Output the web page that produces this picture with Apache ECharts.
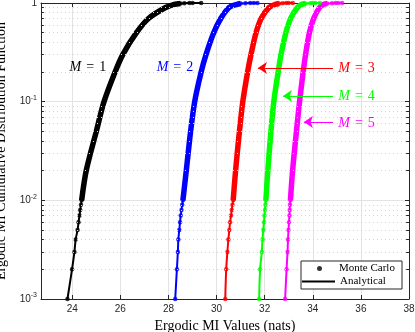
<!DOCTYPE html>
<html>
<head>
<meta charset="utf-8">
<script src="https://cdn.jsdelivr.net/npm/echarts@6/dist/echarts.min.js"></script>
<style>
html, body { margin: 0; padding: 0; background: #fff; }
#chart { width: 415px; height: 332px; }
</style>
</head>
<body>
<div id="chart"></div>
<script>
// CDF levels (Monte Carlo, 1000 samples) and the MI value at each level
var levels = [0.001, 0.002, 0.003, 0.004, 0.005, 0.006, 0.007, 0.008, 0.009, 0.01,
              0.02, 0.05, 0.1, 0.2, 0.3, 0.5, 0.7, 0.9, 0.97, 0.99,
              0.997, 0.998, 0.999, 1];
var m1 = [23.80, 23.99, 24.09, 24.14, 24.22, 24.26, 24.30, 24.33, 24.36, 24.39,
          24.58, 25.00, 25.32, 25.78, 26.10, 26.67, 27.18, 27.88, 28.24, 28.50,
          28.66, 28.87, 29.00, 29.36];
var m2 = [28.28, 28.35, 28.39, 28.41, 28.45, 28.48, 28.51, 28.54, 28.57, 28.60,
          28.74, 28.92, 29.09, 29.36, 29.56, 29.88, 30.18, 30.52, 30.85, 31.00,
          31.20, 31.40, 31.55, 31.70];
var m3 = [30.36, 30.40, 30.45, 30.49, 30.53, 30.56, 30.60, 30.63, 30.66, 30.69,
          30.79, 30.95, 31.09, 31.29, 31.43, 31.64, 31.86, 32.18, 32.45, 32.60,
          32.75, 32.90, 33.00, 33.17];
var m4 = [31.77, 31.81, 31.88, 31.91, 31.94, 31.97, 31.99, 32.01, 32.03, 32.05,
          32.13, 32.26, 32.38, 32.56, 32.68, 32.88, 33.08, 33.36, 33.55, 33.70,
          33.90, 34.00, 34.10, 34.30];
var m5 = [32.85, 32.91, 32.95, 32.97, 32.99, 33.01, 33.03, 33.04, 33.05, 33.07,
          33.16, 33.32, 33.45, 33.60, 33.70, 33.86, 34.04, 34.28, 34.45, 34.60,
          34.80, 34.95, 35.05, 35.22];
var curves = [m1, m2, m3, m4, m5];
var curveColors = ['#000000', '#0000ff', '#ff0000', '#00ff00', '#ff00ff'];
var curveLabels = ['1', '2', '3', '4', '5'];

// minor (dotted) grid levels of the log axis
var minorLevels = [0.002, 0.003, 0.004, 0.005, 0.006, 0.007, 0.008, 0.009,
                   0.02, 0.03, 0.04, 0.05, 0.06, 0.07, 0.08, 0.09,
                   0.2, 0.3, 0.4, 0.5, 0.6, 0.7, 0.8, 0.9];

// text annotations: [x, p] of the label centre
var labelPos = [[24.65, 0.2248], [28.27, 0.2248], [35.82, 0.2195], [35.82, 0.1142], [35.82, 0.0608]];
// arrows: tail x, head x, level p (none for M = 1, 2)
var arrows = [null, null, [34.84, 31.72, 0.2195], [34.84, 32.76, 0.1142], [34.84, 33.63, 0.0623]];

var xMin = 22.7, xMax = 38;
var serif = 'Liberation Serif';
var sans = 'Liberation Sans';
var axisColor = '#262626';

function pairs(xs, from, to) {
    var out = [];
    for (var i = from; i < to; i++) out.push([xs[i], levels[i]]);
    return out;
}

function yFmt(v) {
    if (v >= 1) return '{b|1}';
    return '{b|10}{s|' + Math.round(Math.log10(v)) + '}';
}

var series = [];

// dotted minor grid + small minor ticks on both sides
var minorLines = [];
minorLevels.forEach(function (p) {
    minorLines.push([{coord: [xMin, p]}, {coord: [xMax, p]}]);
});
var minorTicks = [];
minorLevels.forEach(function (p) {
    minorTicks.push([{coord: [xMin, p]}, {coord: [xMin + 0.12, p]}]);
    minorTicks.push([{coord: [xMax - 0.12, p]}, {coord: [xMax, p]}]);
});
series.push({
    type: 'line', data: [], silent: true, z: 1,
    markLine: {
        silent: true, symbol: 'none', label: {show: false}, animation: false,
        lineStyle: {color: '#d4d4d4', type: [1, 3], width: 1},
        data: minorLines
    }
});
series.push({
    type: 'line', data: [], silent: true, z: 6,
    markLine: {
        silent: true, symbol: 'none', label: {show: false}, animation: false,
        lineStyle: {color: axisColor, type: 'solid', width: 1},
        data: minorTicks
    }
});

curves.forEach(function (xs, k) {
    var c = curveColors[k];
    // Monte Carlo: dense part looks like a thick band
    series.push({
        name: 'band' + k, type: 'line', showSymbol: false, silent: true, z: 3,
        smooth: 0.3,
        data: pairs(xs, 9, 20),
        lineStyle: {color: c, width: 5.5}, itemStyle: {color: c}
    });
    series.push({
        name: k === 0 ? 'Monte Carlo' : 'mc' + k, type: 'scatter', silent: true, z: 3,
        symbol: 'circle', symbolSize: 4.5,
        data: pairs(xs, 0, levels.length),
        itemStyle: {color: c}
    });
    var s = {
        name: k === 0 ? 'Analytical' : 'an' + k, type: 'line', showSymbol: false, silent: true, z: 4,
        smooth: 0.3,
        data: pairs(xs, 0, levels.length),
        lineStyle: {color: c, width: 2}, itemStyle: {color: c},
        markPoint: {
            silent: true, symbol: 'circle', symbolSize: 0, animation: false,
            label: {
                show: true, position: 'inside', color: c,
                formatter: '{i|M}{e|=}{n|' + curveLabels[k] + '}',
                rich: {
                    i: {fontFamily: serif, fontStyle: 'italic', fontSize: 14, color: c},
                    e: {fontFamily: serif, fontSize: 14, color: c, padding: [0, 5, 0, 5]},
                    n: {fontFamily: serif, fontSize: 14, color: c}
                }
            },
            data: [{coord: labelPos[k]}]
        }
    };
    if (arrows[k]) {
        var a = arrows[k];
        s.markLine = {
            silent: true, animation: false, symbol: ['none', 'arrow'], symbolSize: 9,
            label: {show: false},
            lineStyle: {color: c, type: 'solid', width: 1},
            data: [[{coord: [a[0], a[2]]}, {coord: [a[1], a[2]]}]]
        };
    }
    series.push(s);
});

var chart = echarts.init(document.getElementById('chart'));
chart.setOption({
    animation: false,
    backgroundColor: '#fff',
    grid: {left: 41, right: 6, top: 3, bottom: 33, outerBoundsMode: 'none', containLabel: false},
    legend: [
        {
            data: [{name: 'Monte Carlo', icon: 'circle'}],
            left: 317, top: 263, padding: 0, z: 10,
            itemWidth: 5, itemHeight: 5, selectedMode: false,
            textStyle: {fontFamily: serif, fontSize: 11, color: '#000', padding: [0, 0, 0, 12]}
        },
        {
            data: [{name: 'Analytical', icon: 'rect'}],
            left: 302, top: 276, padding: 0, z: 10,
            itemWidth: 33, itemHeight: 2, selectedMode: false,
            textStyle: {fontFamily: serif, fontSize: 11, color: '#000'}
        }
    ],
    graphic: [{
        type: 'rect', z: 8, silent: true,
        shape: {x: 301, y: 261, width: 101, height: 28},
        style: {fill: '#fff', stroke: axisColor, lineWidth: 1}
    }],
    xAxis: [
        {
            type: 'value', min: xMin, max: xMax, splitNumber: 8,
            name: 'Ergodic MI Values (nats)', nameLocation: 'middle', nameGap: 16,
            nameTextStyle: {fontFamily: serif, fontSize: 14, color: '#000'},
            axisLine: {show: true, lineStyle: {color: axisColor}},
            axisTick: {show: true, inside: true, length: 4, lineStyle: {color: axisColor}},
            axisLabel: {showMinLabel: false, margin: 5, fontFamily: sans, fontSize: 10, color: axisColor},
            splitLine: {show: true, lineStyle: {color: '#e3e3e3'}}
        },
        {
            type: 'value', position: 'top', min: xMin, max: xMax, splitNumber: 8,
            axisLine: {show: true, lineStyle: {color: axisColor}},
            axisTick: {show: true, inside: true, length: 4, lineStyle: {color: axisColor}},
            axisLabel: {show: false}, splitLine: {show: false}
        }
    ],
    yAxis: [
        {
            type: 'log', logBase: 10, min: 0.001, max: 1, splitNumber: 3,
            name: 'Ergodic MI Cumulative Distribution Function', nameLocation: 'middle', nameGap: 27,
            nameTextStyle: {fontFamily: serif, fontSize: 14, color: '#000'},
            axisLine: {show: true, lineStyle: {color: axisColor}},
            axisTick: {show: true, inside: true, length: 4, lineStyle: {color: axisColor}},
            axisLabel: {
                margin: 4, formatter: yFmt, color: axisColor,
                rich: {
                    b: {fontFamily: sans, fontSize: 10, color: axisColor},
                    s: {fontFamily: sans, fontSize: 7, color: axisColor, padding: [0, 0, 7, 0]}
                }
            },
            splitLine: {show: true, lineStyle: {color: '#e3e3e3'}}
        },
        {
            type: 'log', logBase: 10, min: 0.001, max: 1, splitNumber: 3, position: 'right',
            axisLine: {show: true, lineStyle: {color: axisColor}},
            axisTick: {show: true, inside: true, length: 4, lineStyle: {color: axisColor}},
            axisLabel: {show: false}, splitLine: {show: false}
        }
    ],
    series: series
});
</script>
</body>
</html>
